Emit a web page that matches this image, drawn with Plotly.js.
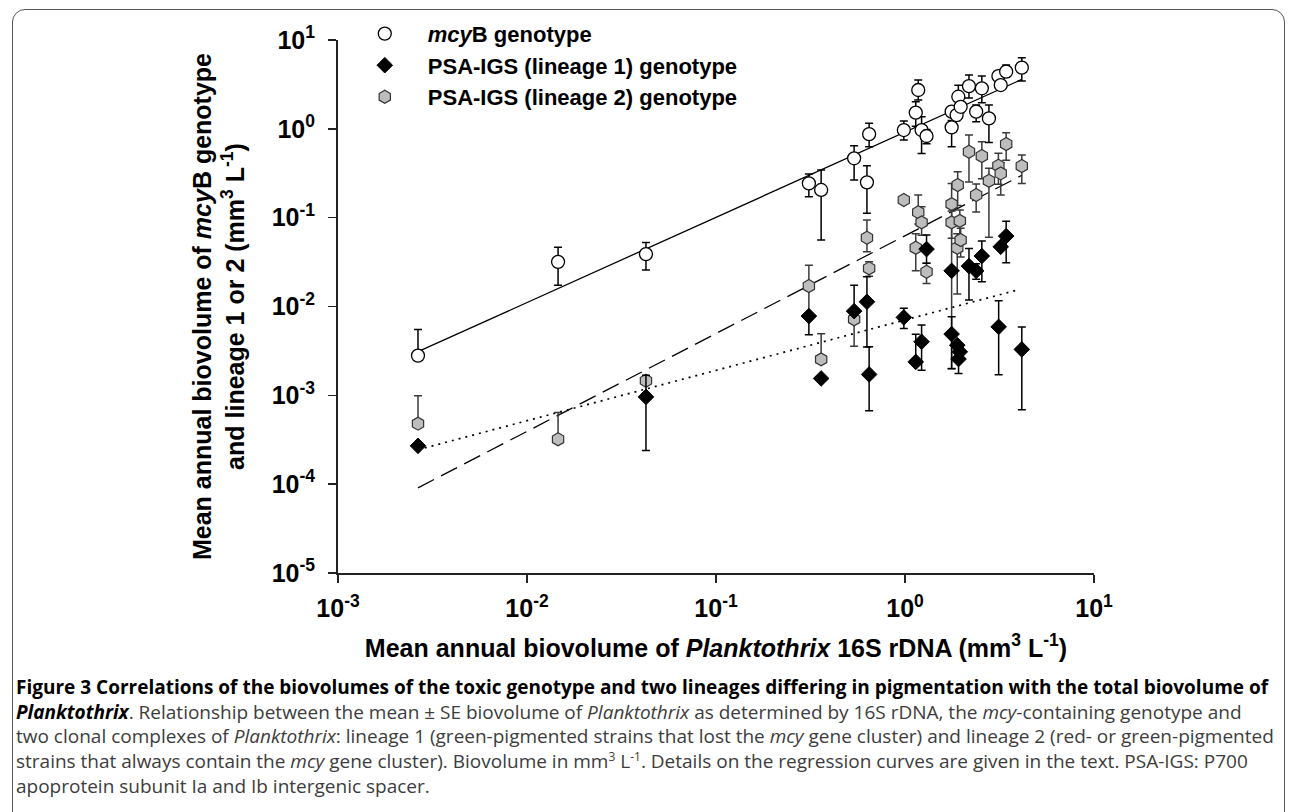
<!DOCTYPE html>
<html><head><meta charset="utf-8">
<script src="https://cdn.plot.ly/plotly-3.0.1.min.js"></script>
<style>
html,body{margin:0;padding:0;background:#fff;width:1290px;height:812px;overflow:hidden;}
#frame{position:absolute;left:12px;top:9px;width:1273px;height:900px;border:1.5px solid #555;border-radius:13px;box-sizing:border-box;}
#chart{position:absolute;left:0;top:0;width:1290px;height:680px;}
#caption{position:absolute;left:16px;top:675px;font-family:'Open Sans',sans-serif;font-size:19px;line-height:24.7px;color:#3c3c3c;white-space:nowrap;}
#caption b{color:#000;}
#caption sup{font-size:12px;line-height:0;vertical-align:super;}
</style></head><body>
<div id="frame"></div>
<div id="chart"></div>
<div id="caption">
<div><b>Figure 3 Correlations of the biovolumes of the toxic genotype and two lineages differing in pigmentation with the total biovolume of</b></div>
<div><b><i>Planktothrix</i></b>. Relationship between the mean ± SE biovolume of <i>Planktothrix</i> as determined by 16S rDNA, the <i>mcy</i>-containing genotype and</div>
<div>two clonal complexes of <i>Planktothrix</i>: lineage 1 (green-pigmented strains that lost the <i>mcy</i> gene cluster) and lineage 2 (red- or green-pigmented</div>
<div>strains that always contain the <i>mcy</i> gene cluster). Biovolume in mm<sup>3</sup> L<sup>-1</sup>. Details on the regression curves are given in the text. PSA-IGS: P700</div>
<div>apoprotein subunit Ia and Ib intergenic spacer.</div>
</div>
<script>
// tick labels
const xTickVals = [0.001, 0.01, 0.1, 1, 10];
const xTickText = ['10<sup>-3</sup>', '10<sup>-2</sup>', '10<sup>-1</sup>', '10<sup>0</sup>', '10<sup>1</sup>'];
const yTickVals = [1e-5, 1e-4, 1e-3, 1e-2, 1e-1, 1, 10];
const yTickText = ['10<sup>-5</sup>', '10<sup>-4</sup>', '10<sup>-3</sup>', '10<sup>-2</sup>', '10<sup>-1</sup>', '10<sup>0</sup>', '10<sup>1</sup>'];

// mcyB genotype (open circles)
const mcyX    = [0.00265, 0.0146, 0.0426, 0.310, 0.360, 0.538, 0.629, 0.646, 0.986, 1.175, 1.14, 1.224, 1.30, 1.765, 1.765, 1.875, 1.915, 1.97, 2.18, 2.38, 2.55, 2.78, 3.12, 3.21, 3.43, 4.15];
const mcyY    = [0.0028, 0.0318, 0.0389, 0.243, 0.205, 0.466, 0.25, 0.873, 0.969, 2.735, 1.52, 0.969, 0.83, 1.56, 1.04, 1.43, 2.30, 1.77, 3.03, 1.56, 2.86, 1.31, 3.93, 3.11, 4.40, 4.88];
const mcyUp   = [0.0027, 0.0145, 0.0138, 0.067, 0.138, 0.18, 0.134, 0.28, 0.26, 0.8, 0.5, 0.4, 0.15, 0.15, 0.2, 0.2, 0.8, 0.25, 1.0, 0.3, 1.07, 0.54, 0.5, 0.3, 0.83, 1.44];
const mcyDown = [0, 0.0144, 0.0132, 0.071, 0.149, 0.20, 0.138, 0.245, 0.22, 0.62, 0.45, 0.44, 0.15, 0.15, 0.41, 0.2, 0.6, 0.25, 0.8, 0.36, 0.9, 0.61, 0.5, 0.3, 0.6, 1.43];

// PSA-IGS lineage 1 (black diamonds)
const l1X    = [0.00265, 0.0426, 0.310, 0.360, 0.538, 0.629, 0.646, 0.986, 1.14, 1.224, 1.30, 1.765, 1.765, 1.89, 1.95, 1.92, 2.18, 2.38, 2.55, 3.13, 3.21, 3.43, 4.15];
const l1Y    = [0.00027, 0.00096, 0.0078, 0.00155, 0.00887, 0.0113, 0.00172, 0.00754, 0.00238, 0.00401, 0.0443, 0.0252, 0.00489, 0.00367, 0.00309, 0.00256, 0.0285, 0.0252, 0.037, 0.0059, 0.047, 0.062, 0.00329];
const l1Up   = [0, 0.00072, 0, 0, 0.0085, 0.0103, 0.0018, 0.002, 0.0025, 0.0022, 0.0194, 0, 0.0028, 0, 0, 0, 0.0166, 0.005, 0.0175, 0.0057, 0, 0.029, 0.0026];
const l1Down = [0, 0.00072, 0.003, 0, 0, 0.0078, 0.00105, 0.0019, 0, 0.0021, 0.0137, 0, 0.0029, 0, 0, 0.0008, 0.0167, 0.005, 0.018, 0.0042, 0, 0.031, 0.0026];

// PSA-IGS lineage 2 (grey hexagons)
const l2X    = [0.00265, 0.0146, 0.0426, 0.310, 0.360, 0.538, 0.629, 0.646, 0.986, 1.14, 1.175, 1.224, 1.30, 1.765, 1.765, 1.89, 1.95, 1.97, 1.90, 2.18, 2.38, 2.55, 2.78, 3.12, 3.21, 3.43, 4.15];
const l2Y    = [0.00048, 0.00032, 0.00146, 0.017, 0.00254, 0.00716, 0.0594, 0.0269, 0.158, 0.0458, 0.115, 0.0885, 0.0246, 0.142, 0.0885, 0.0458, 0.092, 0.056, 0.233, 0.552, 0.18, 0.494, 0.26, 0.384, 0.315, 0.674, 0.381];
const l2Up   = [0.00051, 0.00032, 0, 0.0122, 0.0024, 0, 0.035, 0.005, 0, 0.02, 0.065, 0.044, 0.006, 0.1, 0.03, 0.02, 0.03, 0.02, 0.096, 0.30, 0.06, 0.22, 0.1, 0.146, 0.1, 0.23, 0.126];
const l2Down = [0, 0, 0, 0.009, 0, 0.0036, 0.018, 0.005, 0, 0.0206, 0.03, 0.025, 0.0064, 0.14, 0.03, 0.032, 0.03, 0.02, 0.096, 0.30, 0.064, 0.22, 0.2, 0.146, 0.135, 0.23, 0.138];

// regression lines (end points)
const fitMcyX = [0.00265, 4.15];
const fitMcyY = [0.0031, 3.6];
const fitL2X  = [0.00265, 4.15];
const fitL2Y  = [0.000091, 0.30];
const fitL1X  = [0.00265, 4.06];
const fitL1Y  = [0.000244, 0.0156];

function eb(up, down, color) {
  return {type: 'data', symmetric: false, array: up, arrayminus: down, color: color, thickness: 1.5, width: 4};
}

const traces = [
  {x: fitMcyX, y: fitMcyY, mode: 'lines', line: {color: '#000', width: 1.3}, showlegend: false, hoverinfo: 'skip'},
  {x: fitL2X, y: fitL2Y, mode: 'lines', line: {color: '#000', width: 1.3, dash: '18px,8px'}, showlegend: false, hoverinfo: 'skip'},
  {x: fitL1X, y: fitL1Y, mode: 'lines', line: {color: '#000', width: 1.7, dash: '2px,5px'}, showlegend: false, hoverinfo: 'skip'},
  {x: l2X, y: l2Y, mode: 'markers', name: 'PSA-IGS (lineage 2) genotype', legendrank: 3,
   marker: {symbol: 'hexagon', size: 13, color: '#bdbdbd', line: {color: '#333', width: 1.2}},
   error_y: eb(l2Up, l2Down, '#3a3a3a')},
  {x: l1X, y: l1Y, mode: 'markers', name: 'PSA-IGS (lineage 1) genotype', legendrank: 2,
   marker: {symbol: 'diamond', size: 12, color: '#000', line: {color: '#000', width: 1}},
   error_y: eb(l1Up, l1Down, '#000')},
  {x: mcyX, y: mcyY, mode: 'markers', name: '<i>mcy</i>B genotype', legendrank: 1,
   marker: {symbol: 'circle', size: 13, color: '#fff', line: {color: '#000', width: 1.3}},
   error_y: eb(mcyUp, mcyDown, '#000')}
];

const axisCommon = {
  type: 'log', tickmode: 'array', ticks: 'outside', ticklen: 8, tickwidth: 1.5, tickcolor: '#222',
  showline: true, linecolor: '#222', linewidth: 2, showgrid: false, zeroline: false, mirror: false,
  tickfont: {size: 25, weight: 'bold', color: '#000'}
};

const layout = {
  width: 1290, height: 680,
  margin: {l: 338, r: 196, t: 40, b: 107},
  paper_bgcolor: 'rgba(0,0,0,0)', plot_bgcolor: 'rgba(0,0,0,0)',
  font: {family: 'Liberation Sans, Arial, sans-serif', color: '#000'},
  xaxis: Object.assign({}, axisCommon, {
    range: [-3, 1], tickvals: xTickVals, ticktext: xTickText, ticklabelstandoff: 4,
    title: {text: 'Mean annual biovolume of <i>Planktothrix</i> 16S rDNA (mm<sup>3</sup> L<sup>-1</sup>)', font: {size: 25, weight: 'bold'}, standoff: 18}
  }),
  yaxis: Object.assign({}, axisCommon, {
    range: [-5, 1], tickvals: yTickVals, ticktext: yTickText, ticklabelstandoff: 8,
    title: {text: 'Mean annual biovolume of <i>mcy</i>B genotype<br>and lineage 1 or 2 (mm<sup>3</sup> L<sup>-1</sup>)', font: {size: 25, weight: 'bold'}, standoff: 20}
  }),
  showlegend: true,
  legend: {x: 0.005, y: 1.051, xanchor: 'left', yanchor: 'top', font: {size: 22, weight: 'bold', color: '#000'},
           itemwidth: 76, traceorder: 'normal', bgcolor: 'rgba(0,0,0,0)'}
};

Plotly.newPlot('chart', traces, layout, {displayModeBar: false, staticPlot: true});
</script>
</body></html>
